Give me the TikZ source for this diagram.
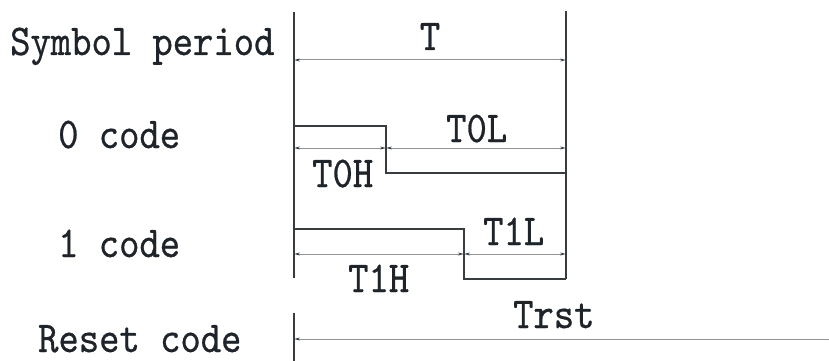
\documentclass[tikz,border=0pt]{standalone}
\usepackage{fontspec}
\newfontfamily\lblfont[FakeStretch=0.88, FakeBold=0.6]{lmmono10-regular.otf}
\usetikzlibrary{positioning, arrows.meta}
\definecolor{wave}{RGB}{55,60,65}
\definecolor{dim}{RGB}{145,148,150}
\definecolor{ink}{RGB}{30,36,42}

\begin{document}
\begin{tikzpicture}[x=1pt,y=-1pt]
\tikzstyle{every node}=[font=\lblfont\fontsize{44}{44}\selectfont, color=ink, inner sep=0pt];
\tikzstyle{wire}=[draw=wave, line width=1.3pt];
\tikzstyle{dimline}=[draw=dim, line width=1pt, {Stealth[length=6pt,width=2.8pt,color=wave]}-{Stealth[length=6pt,width=2.8pt,color=wave]}];
\useasboundingbox (0,0) rectangle (829,361);
% row names
\path (10,55) node[anchor=base west] (sym) {Symbol period};
\path (58,148) node[anchor=base west] (zero) {0 code};
\path (58,257) node[anchor=base west] (one) {1 code};
\path (38,352) node[anchor=base west] (rst) {Reset code};
% frame
\coordinate (top0) at (294,12);
\coordinate (bot0) at (294,278);
\coordinate (top1) at (566,11);
\coordinate (bot1) at (566,279);
\coordinate (rtop) at (294,313);
\coordinate (rbot) at (294,361);
\draw [wire] (top0) -- (bot0)
(top1) -- (bot1)
(rtop) -- (rbot);
% 0 code
\coordinate (h0) at (294,126);
\coordinate (e0) at (386,126);
\coordinate (f0) at (386,173);
\coordinate (l0) at (566,173);
\draw [wire] (h0) -- (e0) -- (f0) -- (l0);
% 1 code
\coordinate (h1) at (294,229);
\coordinate (e1) at (464,229);
\coordinate (f1) at (464,279);
\coordinate (l1) at (566,279);
\draw [wire] (h1) -- (e1) -- (f1) -- (l1);
% dimensions
\coordinate (ta) at (294,60);
\coordinate (tb) at (566,60);
\coordinate (za) at (294,148);
\coordinate (zm) at (386,148);
\coordinate (zb) at (566,148);
\coordinate (oa) at (294,254);
\coordinate (om) at (464,254);
\coordinate (ob) at (566,254);
\coordinate (ra) at (294,339);
\coordinate (rb) at (835,339);
\draw [dimline] (ta) -- (tb);
\draw [dimline] (za) -- (zm);
\draw [dimline] (zm) -- (zb);
\draw [dimline] (oa) -- (om);
\draw [dimline] (om) -- (ob);
\draw [dimline] (ra) -- (rb);
% labels
\path (430,50) node[anchor=base] (tT) {T};
\path (312,187) node[anchor=base west] (tT0H) {T0H};
\path (446,142) node[anchor=base west] (tT0L) {T0L};
\path (348,292) node[anchor=base west] (tT1H) {T1H};
\path (483,245) node[anchor=base west] (tT1L) {T1L};
\path (513,328) node[anchor=base west] (tTrst) {Trst};
\end{tikzpicture}
\end{document}
